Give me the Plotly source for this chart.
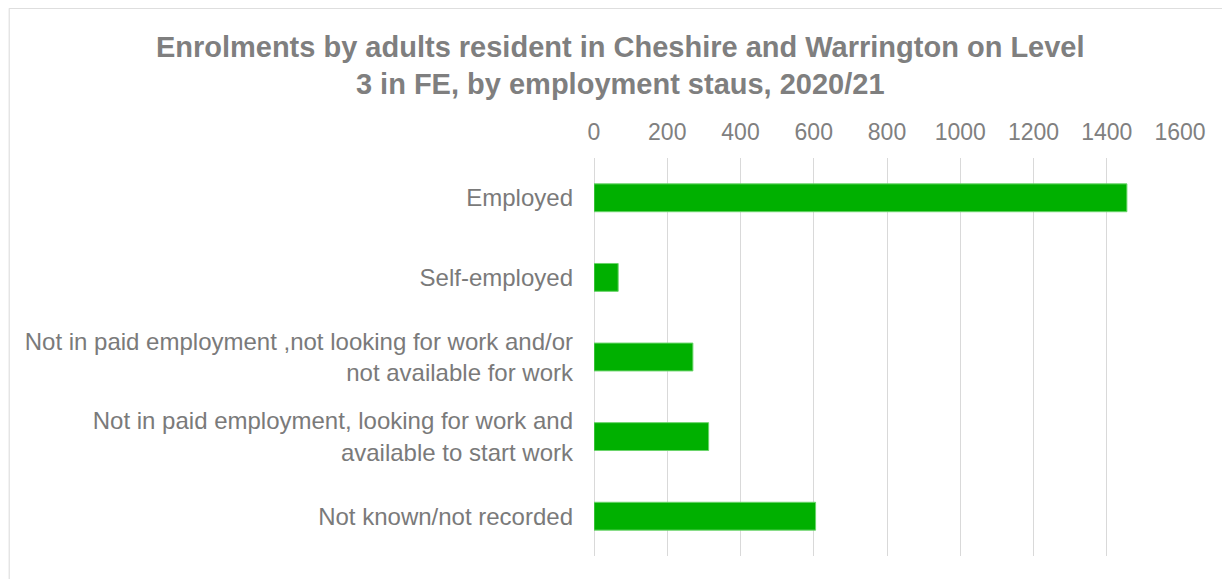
import plotly.graph_objects as go

# -----------------------------
categories = [
    "Employed",
    "Self-employed",
    "Not in paid employment ,not looking for work and/or<br>not available for work",
    "Not in paid employment, looking for work and<br>available to start work",
    "Not known/not recorded",
]
enrolments = [1455, 66, 270, 313, 605]
tick_vals = [0, 200, 400, 600, 800, 1000, 1200, 1400, 1600]

TITLE = ("Enrolments by adults resident in Cheshire and Warrington on Level<br>"
         "3 in FE, by employment staus, 2020/21")

fig = go.Figure(go.Bar(
    x=enrolments,
    y=categories,
    orientation="h",
    marker=dict(color="#00b000", line=dict(color="#6ad46a", width=1)),
    hoverinfo="x+y",
))

fig.update_layout(
    width=1222, height=571,
    paper_bgcolor="white", plot_bgcolor="white",
    font=dict(family="Liberation Sans, Arial, sans-serif", color="#7f7f7f", size=22),
    title=dict(text="<b>" + TITLE + "</b>", x=0.501, xanchor="center", y=0.915, yanchor="top",
               font=dict(size=29, color="#7f7f7f")),
    margin=dict(l=586, r=50, t=150, b=23),
    bargap=0.65,
    showlegend=False,
)
fig.update_xaxes(
    side="top", range=[0, 1600], tickvals=tick_vals,
    showgrid=True, gridcolor="#d9d9d9", gridwidth=1,
    zeroline=True, zerolinecolor="#d9d9d9", zerolinewidth=1,
    showline=False, ticks="", ticklabelstandoff=12,
    tickfont=dict(size=23, color="#808080"),
)
fig.update_yaxes(
    autorange="reversed", showgrid=False, showline=False, ticks="",
    ticklabelstandoff=20, tickfont=dict(size=24, color="#7a7a7a"),
)
# faint chart frame
fig.add_shape(type="rect", xref="paper", yref="paper", x0=-0.998, x1=1.3, y0=-0.3, y1=1.376,
              line=dict(color="#d9d9d9", width=1), layer="below")

fig.write_html("out.html")
